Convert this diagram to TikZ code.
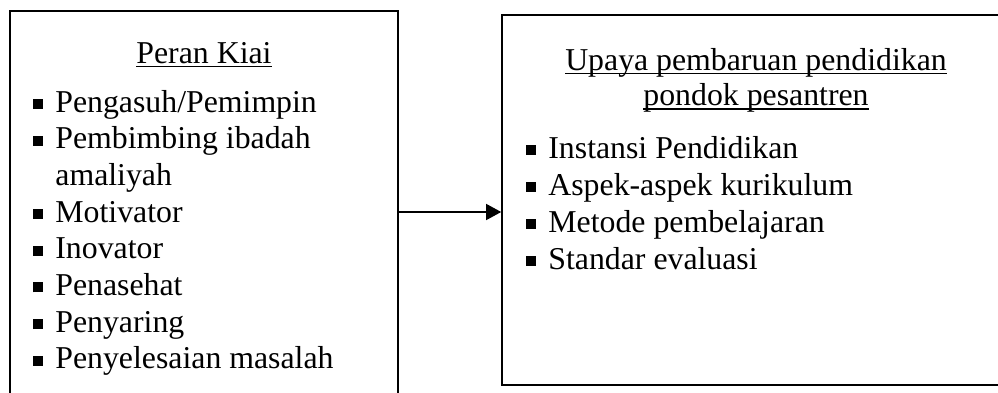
\documentclass[tikz,border=0pt]{standalone}
\usepackage{fontspec}
\setmainfont{Liberation Serif}
\usetikzlibrary{arrows.meta,positioning}
\newcommand{\sqbul}{\rule[1.6pt]{5pt}{5pt}}
\newcommand{\itm}[1]{\llap{\sqbul\hspace{6pt}}#1}
\newcommand{\undl}[1]{\setbox0\hbox{#1}\rlap{\rule[-2pt]{\wd0}{0.6pt}}\box0}

\begin{document}
\begin{tikzpicture}[x=0.5pt,y=-0.5pt,>=Latex,
frame box/.style={draw,line width=0.8pt,inner sep=0pt},
list item/.style={anchor=base west,inner sep=0pt,font=\fontsize{15.9}{18.35}\selectfont},
title text/.style={anchor=base,inner sep=0pt,font=\fontsize{15.9}{18.35}\selectfont},
flow/.style={-{Triangle[length=7.5pt,width=8pt]},line width=0.7pt}]
\useasboundingbox (0,0) rectangle (998,392);
\clip (0,0) rectangle (998,392);
% the two frames
\node[frame box,minimum width=194pt,minimum height=201pt] (kiai) at (204,212) {};
\node[frame box,minimum width=254pt,minimum height=185pt] (upaya) at (756,200) {};
% left frame
\node[title text] (kiai-title) at (204,63) {\undl{Peran Kiai}};
\foreach \txt [count=\i from 0] in {\itm{Pengasuh/Pemimpin},\itm{Pembimbing ibadah},amaliyah,\itm{Motivator},\itm{Inovator},\itm{Penasehat},\itm{Penyaring},\itm{Penyelesaian masalah}}
  \node[list item] (kiai-\i) at (55,112+36.7*\i) {\txt};
% right frame
\node[title text] (upaya-title1) at (756,70) {\undl{Upaya pembaruan pendidikan}};
\node[title text] (upaya-title2) at (756,105.5) {\undl{pondok pesantren}};
\foreach \txt [count=\i from 0] in {Instansi Pendidikan,Aspek-aspek kurikulum,Metode pembelajaran,Standar evaluasi}
  \node[list item] (upaya-\i) at (548,158+37*\i) {\itm{\txt}};
% connector
\draw[flow] (kiai.east) -- (kiai.east -| upaya.west);
\end{tikzpicture}
\end{document}
